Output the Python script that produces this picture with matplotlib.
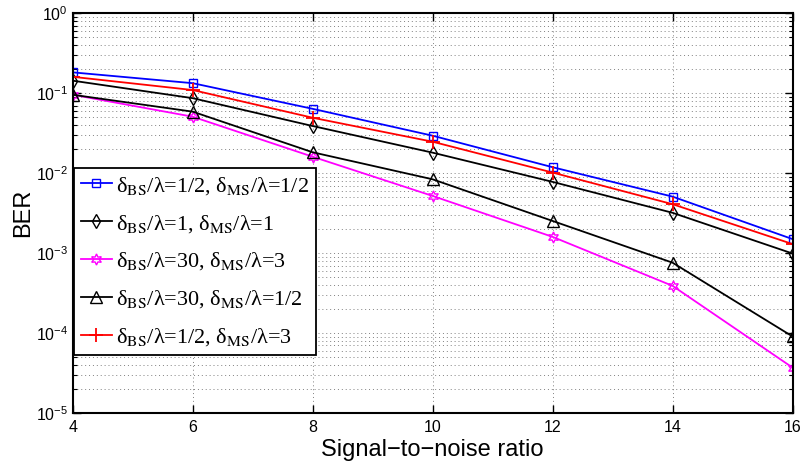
import numpy as np
import matplotlib
matplotlib.use('Agg')
import matplotlib.pyplot as plt
from matplotlib.font_manager import FontProperties
from matplotlib.ticker import LogLocator, LogFormatterMathtext, NullFormatter

plt.rcParams['font.family'] = ['Liberation Sans', 'DejaVu Sans']
plt.rcParams['mathtext.fontset'] = 'custom'
plt.rcParams['mathtext.rm'] = 'Liberation Sans'
plt.rcParams['mathtext.it'] = 'Liberation Sans:italic'
plt.rcParams['mathtext.bf'] = 'Liberation Sans:bold'

# Data
snr = [4, 6, 8, 10, 12, 14, 16]
ber_half_half = [0.183, 0.134, 0.064, 0.0295, 0.0119, 0.0051, 0.0015]
ber_one_one = [0.144, 0.087, 0.039, 0.0181, 0.0078, 0.0032, 0.00099]
ber_30_3 = [0.096, 0.051, 0.0161, 0.0052, 0.0016, 0.00039, 0.000037]
ber_30_half = [0.096, 0.059, 0.0183, 0.0084, 0.00253, 0.00076, 0.0000907]
ber_half_3 = [0.161, 0.11, 0.0495, 0.0248, 0.0102, 0.0041, 0.0013]

labels = [
    'δ$_{\\rm BS}$/λ=1/2, δ$_{\\rm MS}$/λ=1/2',
    'δ$_{\\rm BS}$/λ=1, δ$_{\\rm MS}$/λ=1',
    'δ$_{\\rm BS}$/λ=30, δ$_{\\rm MS}$/λ=3',
    'δ$_{\\rm BS}$/λ=30, δ$_{\\rm MS}$/λ=1/2',
    'δ$_{\\rm BS}$/λ=1/2, δ$_{\\rm MS}$/λ=3',
]

fig = plt.figure(figsize=(8.02, 4.63), dpi=100)
ax = fig.add_axes([0.0907, 0.108, 0.8975, 0.863])

ax.semilogy(snr, ber_half_half, color='#0000ff', marker='s', mfc='none', ms=5.5, lw=1.3, label=labels[0])
ax.semilogy(snr, ber_one_one, color='black', marker='d', mfc='none', ms=7, lw=1.3, label=labels[1])
ax.semilogy(snr, ber_30_3, color='#ff00ff', marker=(6, 1, 0), mfc='none', ms=8, lw=1.3, label=labels[2])
ax.semilogy(snr, ber_30_half, color='black', marker='^', mfc='none', ms=8, lw=1.3, label=labels[3])
ax.semilogy(snr, ber_half_3, color='#ff0000', marker='+', ms=10, mew=1.3, lw=1.3, label=labels[4])

ax.set_xlim(4, 16)
ax.set_ylim(1e-5, 1)
ax.set_xticks(snr)
ax.yaxis.set_major_locator(LogLocator(base=10, numticks=10))
ax.yaxis.set_minor_locator(LogLocator(base=10, subs=np.arange(2, 10), numticks=20))
ax.yaxis.set_major_formatter(LogFormatterMathtext())
ax.yaxis.set_minor_formatter(NullFormatter())

grid_style = dict(linestyle=(0, (1, 3)), color='0.5', lw=0.7)
ax.grid(True, which='major', axis='both', **grid_style)
ax.grid(True, which='minor', axis='y', **grid_style)
ax.tick_params(which='both', direction='in', top=True, right=True, labelsize=11.5)
ax.tick_params(which='major', length=6, width=1)
ax.tick_params(which='minor', length=3, width=0.8)
ax.tick_params(axis='x', pad=5)
for s in ax.spines.values():
    s.set_linewidth(1.5)

ax.set_xlabel('Signal\u2212to\u2212noise ratio', fontsize=17, labelpad=3)
ax.set_ylabel('BER', fontsize=17, labelpad=1)

leg_font = FontProperties(family='Liberation Serif', size=16, math_fontfamily='stix')
leg = ax.legend(loc='upper left', bbox_to_anchor=(0.002, 0.613), prop=leg_font,
                fancybox=False, edgecolor='black', framealpha=1,
                borderpad=0.3, labelspacing=0.72, handlelength=1.4, handletextpad=0.2,
                borderaxespad=0)
leg.get_frame().set_linewidth(1.3)

fig.savefig('out.png', dpi=100)
